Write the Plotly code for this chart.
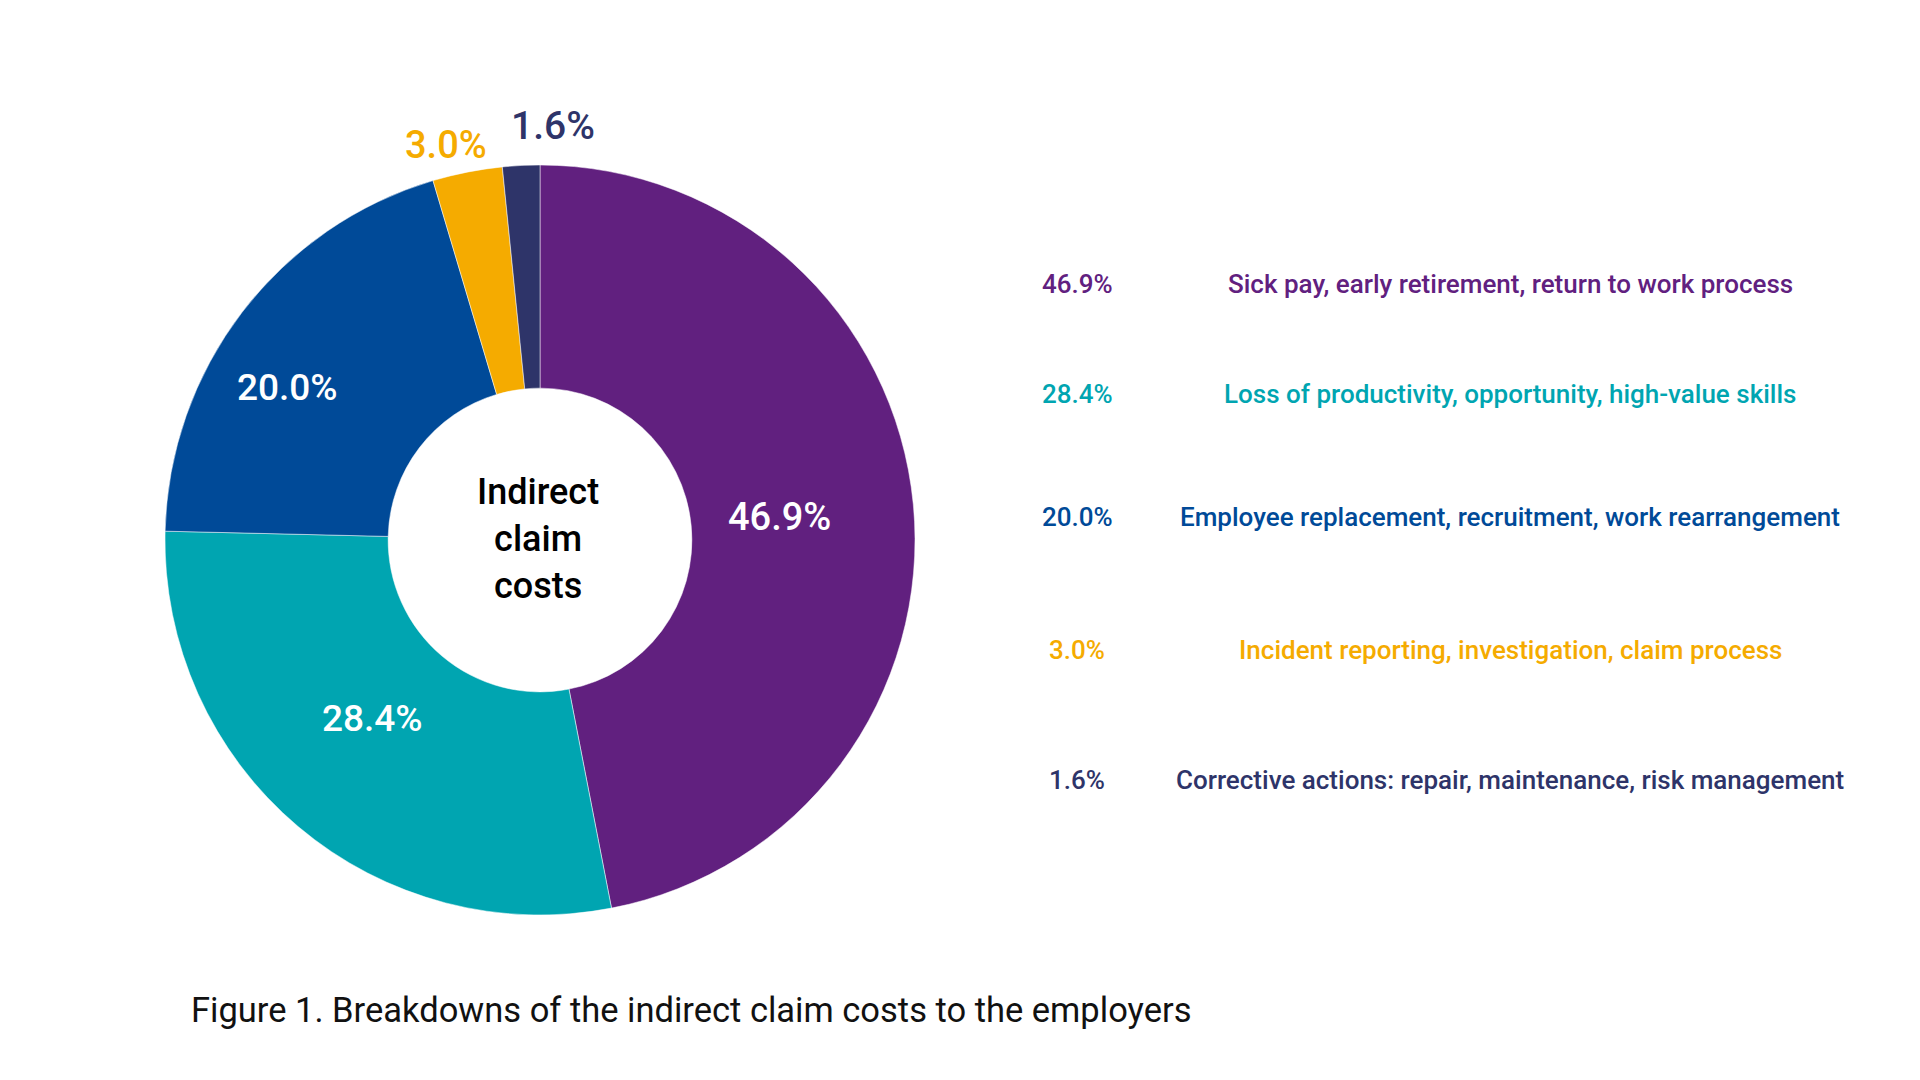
import plotly.graph_objects as go

# ---- data ----
labels = ["Sick pay, early retirement, return to work process",
          "Loss of productivity, opportunity, high-value skills",
          "Employee replacement, recruitment, work rearrangement",
          "Incident reporting, investigation, claim process",
          "Corrective actions: repair, maintenance, risk management"]
values = [46.9, 28.4, 20.0, 3.0, 1.6]
pct_text = ["46.9%", "28.4%", "20.0%", "3.0%", "1.6%"]
colors = ["#61207F", "#00A5B1", "#004A98", "#F5AB00", "#2E3469"]
center_title = "Indirect<br>claim<br>costs"
caption = "Figure 1. Breakdowns of the indirect claim costs to the employers"

W, H = 1920, 1080
def px(x): return x / W
def py(y): return 1 - y / H

FONT = "Roboto"

fig = go.Figure(go.Pie(
    labels=labels, values=values, sort=False, direction="clockwise", rotation=0,
    hole=0.405, marker=dict(colors=colors, line=dict(color="white", width=0.5)),
    textinfo="none", hoverinfo="label+percent",
    domain=dict(x=[px(165), px(915)], y=[py(915), py(165)]),
))

ann = []
# slice labels: inside (white) and outside (coloured)
label_pos = [(779, 517, "white", 38), (372, 718, "white", 37), (287, 387, "white", 37),
             (446, 145, colors[3], 38), (553, 126, colors[4], 39)]
for t, (x, y, c, s) in zip(pct_text, label_pos):
    ann.append(dict(x=px(x), y=py(y), xref="paper", yref="paper", text=t, showarrow=False,
                    font=dict(family=FONT, size=s, color=c, weight=500),
                    xanchor="center", yanchor="middle"))
# centre text
ann.append(dict(x=px(538), y=py(539), xref="paper", yref="paper", text=center_title,
                showarrow=False, font=dict(family=FONT, size=36, color="black", weight=500),
                xanchor="center", yanchor="middle"))
# legend on the right
rows_y = [284, 394, 517, 650, 780]
for t, lab, c, y in zip(pct_text, labels, colors, rows_y):
    ann.append(dict(x=px(1077), y=py(y), xref="paper", yref="paper", text=t, showarrow=False,
                    font=dict(family=FONT, size=26, color=c, weight=500),
                    xanchor="center", yanchor="middle"))
    ann.append(dict(x=px(1510), y=py(y), xref="paper", yref="paper", text=lab, showarrow=False,
                    font=dict(family=FONT, size=26, color=c, weight=500),
                    xanchor="center", yanchor="middle"))
# caption
ann.append(dict(x=px(189), y=py(1010), xref="paper", yref="paper", text=caption, showarrow=False,
                font=dict(family=FONT, size=34.5, color="#111111", weight=400),
                xanchor="left", yanchor="middle"))

fig.update_layout(width=W, height=H, margin=dict(l=0, r=0, t=0, b=0),
                  paper_bgcolor="white", plot_bgcolor="white", showlegend=False,
                  annotations=ann)
fig.write_html("out.html")
